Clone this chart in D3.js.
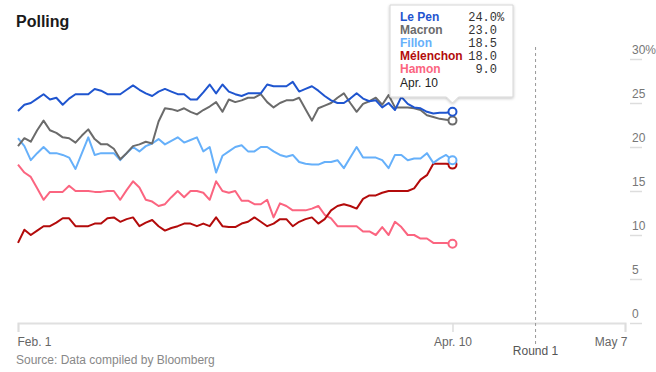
<!DOCTYPE html>
<html>
<head>
<meta charset="utf-8">
<script src="https://cdn.jsdelivr.net/npm/d3@7"></script>
<style>
body{margin:0;background:#fff;font-family:"Liberation Sans",Arial,sans-serif;}
</style>
</head>
<body>
<div id="chart"></div>
<script>
var svgW=656,svgH=372;
var startDate="2017-02-01",endDate="2017-05-07",roundDate="2017-04-23";
var xTickDates=["2017-02-01","2017-04-10","2017-05-07"];
var xTickLabels=["Feb. 1","Apr. 10","May 7"];
var yTicks=[0,5,10,15,20,25,30];

var names=["Le Pen","Macron","Fillon","Mélenchon","Hamon"];
var colors=["#1f55cf","#6b6b6b","#66b0fa","#b30b0b","#fb6580"];

// daily polling averages, Feb 1 to Apr 10
var lepen=[24.1,24.8,25.0,25.5,26.0,25.4,25.6,24.8,25.5,26.0,26.0,26.0,26.6,26.4,26.0,26.0,26.0,26.5,27.0,26.5,
  26.1,25.8,26.3,26.6,26.3,26.0,26.0,25.4,25.4,26.2,27.1,26.1,27.1,26.3,26.0,25.8,26.1,26.1,26.1,27.1,
  26.9,26.9,26.9,27.4,26.3,26.6,26.9,26.4,25.8,25.3,25.0,25.0,25.5,26.1,25.5,25.2,25.3,24.5,25.0,24.2,
  25.7,24.9,24.5,24.4,24.0,23.8,23.9,23.9,24.0];
var macron=[20.1,21.0,20.6,21.9,23.0,21.9,21.6,21.1,21.0,20.5,21.3,22.0,20.9,20.3,20.3,19.8,18.6,19.3,20.1,20.3,
  20.6,20.4,22.9,24.4,24.3,24.1,24.4,24.0,23.7,24.2,24.6,25.1,24.0,25.4,25.1,25.3,25.6,25.6,26.0,25.1,
  24.5,25.0,25.3,25.3,25.6,24.3,23.0,24.4,24.7,25.0,25.6,26.1,25.0,24.0,24.9,25.2,25.6,24.8,25.9,24.5,
  24.5,24.5,24.4,24.2,23.6,23.4,23.2,23.1,23.0];
var fillon=[21.0,20.1,18.5,19.3,20.0,19.3,19.3,19.1,18.8,17.5,19.3,21.1,19.1,19.3,19.3,19.3,18.5,19.3,20.0,19.5,
  20.1,20.4,20.9,20.3,20.7,21.1,20.5,20.8,21.1,19.5,20.0,17.1,19.0,19.5,20.0,20.2,19.5,19.5,20.0,20.0,
  19.5,19.1,18.9,19.1,18.3,18.1,18.0,18.0,18.3,18.3,18.5,17.6,18.8,20.0,18.8,18.8,18.8,18.5,17.6,19.1,
  19.1,18.5,18.7,18.7,19.3,18.2,18.7,19.1,18.5];
var melenchon=[9.1,10.6,10.0,10.5,11.0,11.0,11.4,11.9,11.9,11.0,11.0,11.0,11.3,11.3,11.9,12.0,11.5,11.8,12.0,11.0,
  11.4,11.7,11.0,10.5,10.8,11.0,11.3,11.3,11.0,11.3,11.0,12.0,11.0,10.9,10.9,11.3,11.5,12.0,11.5,11.0,
  11.3,11.8,11.8,11.0,11.5,11.8,12.0,11.3,11.8,12.8,13.3,13.5,13.3,13.0,14.1,14.5,14.5,14.8,15.0,15.0,
  15.0,15.0,15.3,16.3,16.8,18.1,18.1,18.1,18.0];
var hamon=[18.0,17.1,16.6,15.3,14.0,14.9,14.9,14.9,15.6,15.0,15.0,15.0,14.9,14.9,15.0,15.0,14.0,15.1,16.1,15.4,
  14.0,13.8,13.3,13.5,14.3,15.0,14.3,15.0,15.0,14.8,14.0,16.1,15.0,14.8,15.0,13.9,13.9,13.5,13.5,14.0,
  12.0,13.6,13.3,12.8,12.8,12.8,13.0,13.3,12.3,11.9,11.0,11.0,11.0,11.0,10.4,10.4,10.0,10.9,10.0,11.5,
  10.9,10.0,10.0,9.6,9.6,9.1,9.1,9.1,9.0];
var seriesvalues=[lepen,macron,fillon,melenchon,hamon];

var parse=d3.timeParse("%Y-%m-%d");
var day0=parse(startDate);

var x=d3.scaleTime().domain([day0,parse(endDate)]).range([18,625]);
var y=d3.scaleLinear().domain([0,30]).range([323,59]);

var svg=d3.select("#chart").append("svg")
    .attr("width",svgW)
    .attr("height",svgH);

svg.append("text")
    .attr("x",16).attr("y",27)
    .style("font-size","16px").style("font-weight","bold")
    .attr("fill","#1a1a1a")
    .text("Polling");

// y axis on the right, labels sit above short tick lines
var yaxis=svg.append("g")
    .attr("transform","translate(630,0)")
    .call(d3.axisRight(y).tickValues(yTicks).tickSize(12)
        .tickFormat(function(d){return d==30?d+"%":d;}));
yaxis.select(".domain").remove();
yaxis.selectAll(".tick line").attr("stroke","#ddd").attr("stroke-width",1.5);
yaxis.selectAll(".tick text")
    .attr("x",2).attr("dy",-6)
    .attr("text-anchor","start")
    .attr("fill","#777")
    .style("font-size","12px")
    .style("font-family","Liberation Sans, Arial, sans-serif");

// x axis
var xaxis=svg.append("g")
    .attr("transform","translate(0,323)")
    .call(d3.axisBottom(x).tickValues(xTickDates.map(parse)).tickSize(9)
        .tickFormat(function(d,i){return xTickLabels[i];}));
xaxis.select(".domain").attr("stroke","#e0e0e0").attr("stroke-width",2);
xaxis.selectAll(".tick line").attr("stroke","#ddd").attr("stroke-width",1.5);
xaxis.selectAll(".tick text")
    .attr("y",14)
    .attr("fill","#666")
    .style("font-size","12px")
    .style("font-family","Liberation Sans, Arial, sans-serif")
    .attr("text-anchor",function(d,i){return i==0?"start":(i==xTickDates.length-1?"end":"middle");})
    .attr("dx",function(d,i){return i==0?"-1":(i==xTickDates.length-1?"2":"0");});

// round 1 marker
var rx=x(parse(roundDate));
svg.append("line")
    .attr("x1",rx).attr("x2",rx)
    .attr("y1",47).attr("y2",344)
    .attr("stroke","#999").attr("stroke-width",1)
    .attr("stroke-dasharray","3,3");
svg.append("text")
    .attr("x",rx).attr("y",355)
    .attr("text-anchor","middle")
    .attr("fill","#555")
    .style("font-size","12px")
    .text("Round 1");

svg.append("text")
    .attr("x",16).attr("y",364)
    .attr("fill","#888")
    .style("font-size","12px")
    .text("Source: Data compiled by Bloomberg");

// lines
var line=d3.line()
    .x(function(d,i){return x(d3.timeDay.offset(day0,i));})
    .y(function(d){return y(d);});

var lineg=svg.append("g");
for(var k=seriesvalues.length-1;k>=0;k--){
    lineg.append("path")
        .datum(seriesvalues[k])
        .attr("fill","none")
        .attr("stroke",colors[k])
        .attr("stroke-width",2)
        .attr("stroke-linejoin","round")
        .attr("d",line);
}
for(var k=seriesvalues.length-1;k>=0;k--){
    var last=seriesvalues[k].length-1;
    lineg.append("circle")
        .attr("cx",x(d3.timeDay.offset(day0,last)))
        .attr("cy",y(seriesvalues[k][last]))
        .attr("r",4)
        .attr("fill","#fff")
        .attr("stroke",colors[k])
        .attr("stroke-width",2);
}

// tooltip for the last day
var tipx=390,tipy=5,tipw=123,tiph=92;
var px=x(d3.timeDay.offset(day0,lepen.length-1));
var tippath="M"+tipx+","+tipy+"h"+tipw+"v"+tiph+"H"+(px+6)+"l-6,6l-6,-6H"+tipx+"Z";
var defs=svg.append("defs");
var f=defs.append("filter").attr("id","tipshadow").attr("x","-10%").attr("y","-10%").attr("width","130%").attr("height","130%");
f.append("feGaussianBlur").attr("in","SourceAlpha").attr("stdDeviation",1.5);
f.append("feOffset").attr("dx",0).attr("dy",1).attr("result","b");
f.append("feComponentTransfer").append("feFuncA").attr("type","linear").attr("slope",0.25);
var fm=f.append("feMerge");
fm.append("feMergeNode");
fm.append("feMergeNode").attr("in","SourceGraphic");

var tip=svg.append("g");
tip.append("path")
    .attr("d",tippath)
    .attr("fill","#fff")
    .attr("stroke","#d6d6d6")
    .attr("stroke-width",1)
    .attr("filter","url(#tipshadow)");
for(var k=0;k<names.length;k++){
    var vals=seriesvalues[k];
    tip.append("text")
        .attr("x",400).attr("y",21+k*13)
        .attr("fill",colors[k])
        .style("font-size","12px").style("font-weight","bold")
        .text(names[k]);
    tip.append("text")
        .attr("x",497).attr("y",21+k*13)
        .attr("text-anchor","end")
        .attr("fill","#333")
        .style("font-size","12px")
        .style("font-family","Liberation Mono, monospace")
        .text(vals[vals.length-1].toFixed(1));
}
tip.append("text")
    .attr("x",497).attr("y",21)
    .attr("fill","#333")
    .style("font-size","12px")
    .style("font-family","Liberation Mono, monospace")
    .text("%");
tip.append("text")
    .attr("x",400).attr("y",87)
    .attr("fill","#222")
    .style("font-size","12px")
    .text(xTickLabels[1]);
</script>
</body>
</html>
